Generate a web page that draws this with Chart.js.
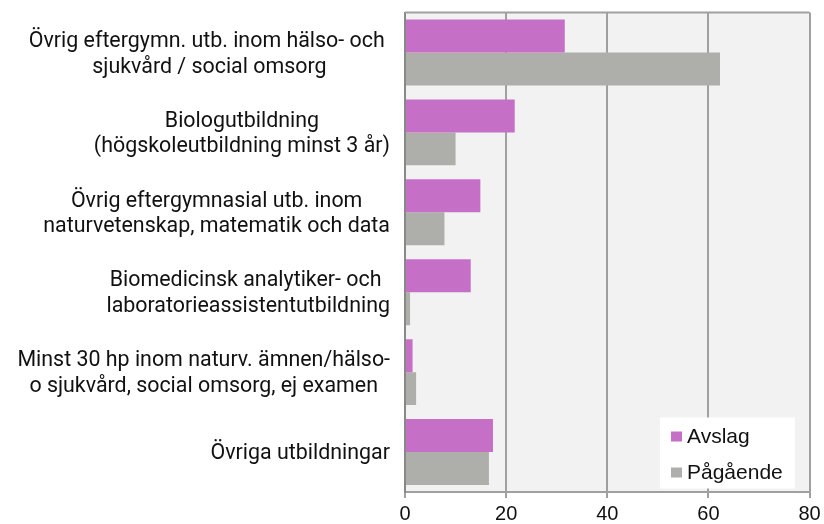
<!DOCTYPE html>
<html><head><meta charset="utf-8">
<script src="https://cdn.jsdelivr.net/npm/chart.js@4.4.1/dist/chart.umd.min.js"></script>
<style>html,body{margin:0;padding:0;background:#fff}#wrap{width:824px;height:524px}</style>
</head><body><div id="wrap"><canvas id="c" width="824" height="524"></canvas></div>
<script>
const categories = [
  ["Övrig eftergymn. utb. inom hälso- och ", "sjukvård / social omsorg"],
  ["Biologutbildning", "(högskoleutbildning minst 3 år)"],
  ["Övrig eftergymnasial utb. inom", "naturvetenskap, matematik och data"],
  ["Biomedicinsk analytiker- och ", "laboratorieassistentutbildning"],
  ["Minst 30 hp inom naturv. ämnen/hälso-", "o sjukvård, social omsorg, ej examen"],
  ["Övriga utbildningar"]
];
const seriesNames = ["Avslag", "Pågående"];
const avslag = [31.6, 21.7, 14.9, 13.0, 1.5, 17.4];
const pagaende = [62.3, 10.0, 7.8, 1.0, 2.2, 16.6];
const xTicks = [0, 20, 40, 60, 80];
const colors = ["#C66FC6", "#AEAFAA"];

const bgPlugin = {
  id: 'bg',
  beforeDraw(chart) {
    const {ctx, chartArea: a} = chart;
    ctx.save();
    ctx.fillStyle = '#F2F2F2';
    ctx.fillRect(a.left, a.top, a.right - a.left, a.bottom - a.top);
    ctx.restore();
  },
  afterDraw(chart) {
    const {ctx, chartArea: a} = chart;
    ctx.save();
    // top border
    ctx.strokeStyle = '#A0A0A0';
    ctx.lineWidth = 2;
    ctx.beginPath();
    ctx.moveTo(a.left, a.top);
    ctx.lineTo(a.right, a.top);
    ctx.stroke();
    // category labels, each block centred, blocks right-aligned
    const ys = chart.scales.y;
    ctx.font = '21.4px Roboto';
    ctx.fillStyle = '#111';
    ctx.textAlign = 'center';
    ctx.textBaseline = 'middle';
    const lh = 25.8;
    categories.forEach((lines, i) => {
      const yc = ys.getPixelForTick(i);
      const w = Math.max(...lines.map(l => ctx.measureText(l).width));
      const cx = ys.right - 15 - w / 2;
      lines.forEach((l, j) => {
        ctx.fillText(l, cx, yc + (j - (lines.length - 1) / 2) * lh + 1.8);
      });
    });
    // legend box
    const bw = 135, bh = 71;
    const bx = a.right - 14.5 - bw, by = a.bottom - 3.5 - bh;
    ctx.fillStyle = '#FFFFFF';
    ctx.fillRect(bx, by, bw, bh);
    ctx.font = '21px "Liberation Sans", Arial, sans-serif';
    ctx.textAlign = 'left';
    ctx.textBaseline = 'alphabetic';
    chart.data.datasets.forEach((ds, k) => {
      const sy = by + 14 + k * 36;
      ctx.fillStyle = ds.backgroundColor;
      ctx.fillRect(bx + 11, sy, 11, 10);
      ctx.fillStyle = '#111';
      ctx.fillText(ds.label, bx + 27, sy + 11);
    });
    ctx.restore();
  }
};

new Chart(document.getElementById('c'), {
  type: 'bar',
  data: {
    labels: categories,
    datasets: [
      {label: seriesNames[0], data: avslag, backgroundColor: colors[0]},
      {label: seriesNames[1], data: pagaende, backgroundColor: colors[1]}
    ]
  },
  options: {
    indexAxis: 'y',
    responsive: false,
    animation: false,
    categoryPercentage: 0.825,
    barPercentage: 1,
    layout: {padding: {top: 12.5, right: 14.5, left: 0, bottom: 0}},
    plugins: {legend: {display: false}, tooltip: {enabled: false}},
    scales: {
      x: {
        min: 0, max: 80,
        afterBuildTicks(s) { s.ticks = xTicks.map(v => ({value: v})); },
        afterFit(s) { s.height = 32; s.paddingRight = 0; s.paddingLeft = 0; },
        ticks: {color: '#111', font: {family: '"Liberation Sans", Arial, sans-serif', size: 20}, padding: 4, maxRotation: 0},
        grid: {color: '#A0A0A0', lineWidth: 2, tickLength: 6, drawOnChartArea: true},
        border: {color: '#A0A0A0', width: 2}
      },
      y: {
        afterFit(s) { s.width = 405; s.paddingTop = 0; s.paddingBottom = 0; },
        ticks: {display: false},
        grid: {display: false},
        border: {color: '#888888', width: 2}
      }
    }
  },
  plugins: [bgPlugin]
});
</script>
</body></html>
